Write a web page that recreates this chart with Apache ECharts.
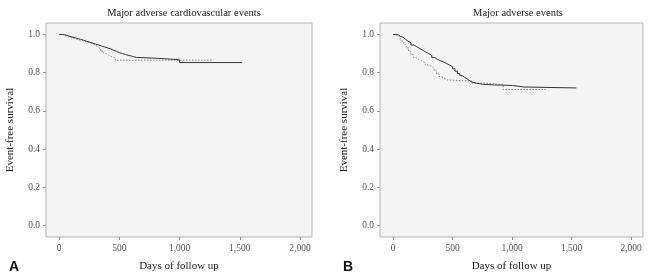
<!DOCTYPE html>
<html>
<head>
<meta charset="utf-8">
<script src="https://cdn.jsdelivr.net/npm/echarts@6/dist/echarts.min.js"></script>
<style>
  html, body { margin: 0; padding: 0; background: #fff; }
  #chart { width: 652px; height: 279px; }
</style>
</head>
<body>
<div id="chart"></div>
<script>
// panel A - major adverse cardiovascular events (days, survival)
var maceSolid = [
  [0, 1.0], [25, 0.998], [50, 0.993], [75, 0.988], [100, 0.984], [125, 0.979],
  [150, 0.975], [175, 0.97], [200, 0.965], [225, 0.96], [250, 0.955], [275, 0.95],
  [300, 0.945], [325, 0.94], [350, 0.935], [375, 0.93], [400, 0.925], [425, 0.918],
  [450, 0.912], [475, 0.905], [500, 0.9], [525, 0.895], [550, 0.89], [580, 0.885],
  [610, 0.88], [640, 0.876], [795, 0.868], [1000, 0.853], [1520, 0.853]
];
var maceDotted = [
  [0, 1.0], [30, 0.99], [60, 0.985], [90, 0.98], [130, 0.972], [160, 0.967],
  [200, 0.96], [240, 0.953], [280, 0.945], [300, 0.935], [320, 0.925], [345, 0.912],
  [370, 0.9], [390, 0.893], [410, 0.885], [430, 0.877], [465, 0.865], [1280, 0.865]
];
// panel B - major adverse events
var maeSolid = [
  [0, 1.0], [25, 0.998], [45, 0.99], [65, 0.985], [85, 0.975], [105, 0.965],
  [125, 0.957], [150, 0.945], [175, 0.935], [200, 0.926], [225, 0.917], [250, 0.908],
  [275, 0.9], [300, 0.89], [325, 0.879], [350, 0.869], [375, 0.862], [400, 0.856],
  [425, 0.848], [450, 0.84], [475, 0.831], [500, 0.82], [520, 0.808], [540, 0.796],
  [560, 0.785], [580, 0.776], [600, 0.768], [620, 0.76], [640, 0.751], [660, 0.745],
  [700, 0.739], [760, 0.736], [850, 0.733], [1004, 0.725], [1100, 0.72], [1540, 0.718]
];
var maeDotted = [
  [0, 1.0], [20, 0.995], [40, 0.985], [60, 0.972], [75, 0.962], [90, 0.948],
  [110, 0.93], [130, 0.912], [150, 0.895], [170, 0.88], [190, 0.872], [210, 0.862],
  [240, 0.852], [270, 0.84], [300, 0.832], [326, 0.823], [345, 0.81], [365, 0.795],
  [385, 0.78], [405, 0.77], [430, 0.762], [452, 0.757], [640, 0.757], [660, 0.745],
  [780, 0.738], [925, 0.712], [1295, 0.712]
];
var xTicks = [0, 500, 1000, 1500, 2000];
var yTicks = [0, 0.2, 0.4, 0.6, 0.8, 1.0];

var font = "Liberation Serif";
var chart = echarts.init(document.getElementById("chart"));

function xAxisOf(idx) {
  return {
    gridIndex: idx,
    type: "value",
    min: -110,
    max: 2100,
    name: "Days of follow up",
    nameLocation: "middle",
    nameGap: 24,
    nameTextStyle: { fontFamily: font, fontSize: 11, color: "#222" },
    axisLine: { show: false, onZero: false },
    splitLine: { show: false },
    axisTick: { show: true, customValues: xTicks, length: 3, lineStyle: { color: "#999" } },
    axisLabel: {
      customValues: xTicks,
      margin: 6,
      fontFamily: font,
      fontSize: 9.5,
      color: "#555",
      formatter: function (v) { return v.toLocaleString("en-US"); }
    }
  };
}
function yAxisOf(idx) {
  return {
    gridIndex: idx,
    type: "value",
    min: -0.06,
    max: 1.06,
    name: "Event-free survival",
    nameLocation: "middle",
    nameRotate: 90,
    nameGap: 30,
    nameTextStyle: { fontFamily: font, fontSize: 11, color: "#222" },
    axisLine: { show: false, onZero: false },
    splitLine: { show: false },
    axisTick: { show: true, customValues: yTicks, length: 3, lineStyle: { color: "#999" } },
    axisLabel: {
      customValues: yTicks,
      margin: 6,
      fontFamily: font,
      fontSize: 9.5,
      color: "#555",
      formatter: function (v) { return v.toFixed(1); }
    }
  };
}
function km(name, data, idx, dotted) {
  return {
    name: name,
    type: "line",
    step: "end",
    xAxisIndex: idx,
    yAxisIndex: idx,
    showSymbol: false,
    silent: true,
    lineStyle: dotted
      ? { color: "#8a8a8a", width: 1, type: [1.5, 1.5] }
      : { color: "#333", width: 1 },
    data: data
  };
}

var option = {
  animation: false,
  title: [
    { text: "Major adverse cardiovascular events", left: 179, top: 3, textAlign: "center",
      textStyle: { fontFamily: font, fontSize: 10.5, fontWeight: "normal", color: "#222" } },
    { text: "Major adverse events", left: 513, top: 3, textAlign: "center",
      textStyle: { fontFamily: font, fontSize: 10.5, fontWeight: "normal", color: "#222" } },
    { text: "A", left: 4, top: 255,
      textStyle: { fontFamily: "Liberation Sans", fontSize: 14, fontWeight: "bold", color: "#111" } },
    { text: "B", left: 338, top: 255,
      textStyle: { fontFamily: "Liberation Sans", fontSize: 14, fontWeight: "bold", color: "#111" } }
  ],
  grid: [
    { left: 46, right: 340, top: 23, bottom: 42, show: true,
      backgroundColor: "#f4f4f4", borderColor: "#b5b5b5", borderWidth: 1 },
    { left: 380, right: 9, top: 23, bottom: 42, show: true,
      backgroundColor: "#f4f4f4", borderColor: "#b5b5b5", borderWidth: 1 }
  ],
  xAxis: [xAxisOf(0), xAxisOf(1)],
  yAxis: [yAxisOf(0), yAxisOf(1)],
  series: [
    km("MACE dotted", maceDotted, 0, true),
    km("MACE solid", maceSolid, 0, false),
    km("MAE dotted", maeDotted, 1, true),
    km("MAE solid", maeSolid, 1, false)
  ]
};
chart.setOption(option);
</script>
</body>
</html>
